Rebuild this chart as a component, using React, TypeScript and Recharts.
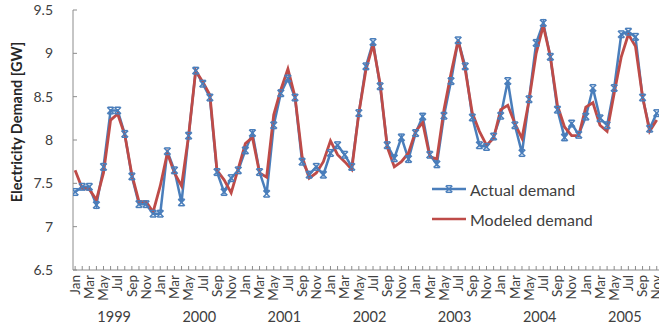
import React from 'react';
import { LineChart, Line, XAxis, YAxis, Legend } from 'recharts';

const monthNames = ['Jan', 'Feb', 'Mar', 'Apr', 'May', 'Jun', 'Jul', 'Aug', 'Sep', 'Oct', 'Nov', 'Dec'];
const years = [1999, 2000, 2001, 2002, 2003, 2004, 2005];
const yTicks = [6.5, 7, 7.5, 8, 8.5, 9, 9.5];

// Monthly values, Jan 1999 .. Nov 2005
const actualDemand = [
  7.40, 7.46, 7.46, 7.25, 7.69, 8.34, 8.34, 8.07, 7.58, 7.26, 7.26, 7.15,
  7.15, 7.87, 7.65, 7.28, 8.05, 8.80, 8.65, 8.49, 7.63, 7.40, 7.56, 7.65,
  7.88, 8.08, 7.63, 7.38, 8.17, 8.54, 8.71, 8.49, 7.75, 7.60, 7.69, 7.60,
  7.85, 7.94, 7.83, 7.69, 8.31, 8.85, 9.13, 8.62, 7.94, 7.79, 8.03, 7.78,
  8.08, 8.27, 7.83, 7.72, 8.28, 8.68, 9.15, 8.85, 8.26, 7.94, 7.92, 8.04,
  8.28, 8.68, 8.17, 7.85, 8.47, 9.12, 9.35, 8.96, 8.35, 8.03, 8.19, 8.06,
  8.27, 8.60, 8.25, 8.17, 8.60, 9.22, 9.25, 9.19, 8.49, 8.13, 8.31,
];

const modeledDemand = [
  7.65, 7.44, 7.43, 7.31, 7.62, 8.23, 8.30, 8.06, 7.60, 7.29, 7.29, 7.17,
  7.47, 7.85, 7.62, 7.47, 8.05, 8.80, 8.67, 8.52, 7.65, 7.54, 7.39, 7.67,
  7.96, 8.03, 7.62, 7.57, 8.29, 8.58, 8.82, 8.50, 7.81, 7.56, 7.62, 7.75,
  7.99, 7.83, 7.75, 7.66, 8.31, 8.81, 9.10, 8.65, 7.92, 7.69, 7.75, 7.85,
  8.10, 8.20, 7.81, 7.78, 8.35, 8.77, 9.15, 8.81, 8.31, 8.10, 7.94, 8.02,
  8.35, 8.40, 8.19, 8.02, 8.46, 9.00, 9.32, 8.96, 8.40, 8.15, 8.05, 8.05,
  8.38, 8.43, 8.17, 8.10, 8.54, 8.96, 9.22, 9.08, 8.50, 8.10, 8.23,
];

const data = actualDemand.map((a, i) => ({ t: i, actual: a, modeled: modeledDemand[i] }));
const monthTicks = data.map((d) => d.t);
const yearTicks = years.map((_, k) => k * 12 + 5.5);

const FONT = "Lato, 'Open Sans', 'DejaVu Sans', sans-serif";
const BLUE = '#4A7EBB';
const RED = '#BE4B48';
const AXIS = '#8c8c8c';
const TEXT = '#404040';

const Star = ({ cx, cy, r = 3.3 }: { cx: number; cy: number; r?: number }) => (
  <g stroke={BLUE} strokeWidth={1.5} fill="none">
    <line x1={cx - r} y1={cy - r} x2={cx + r} y2={cy + r} />
    <line x1={cx - r} y1={cy + r} x2={cx + r} y2={cy - r} />
    <line x1={cx - r + 0.5} y1={cy - r} x2={cx + r - 0.5} y2={cy - r} />
    <line x1={cx - r + 0.5} y1={cy + r} x2={cx + r - 0.5} y2={cy + r} />
  </g>
);

const MonthTick = (props: any) => {
  const { x, y, payload } = props;
  const idx = payload.value as number;
  const show = idx % 2 === 0;
  return (
    <g>
      <line x1={x} y1={y} x2={x} y2={y - 4} stroke={AXIS} strokeWidth={1} />
      {show && (
        <text
          transform={`translate(${x},${y + 5}) rotate(-90)`}
          textAnchor="end"
          dy="0.35em"
          fontFamily={FONT}
          fontSize={13.5}
          fill={TEXT}
        >
          {monthNames[idx % 12]}
        </text>
      )}
    </g>
  );
};

const YearTick = (props: any) => {
  const { x, y, payload } = props;
  const k = Math.round((payload.value - 5.5) / 12);
  return (
    <text x={x} y={y + 12} textAnchor="middle" fontFamily={FONT} fontSize={14.5} fill={TEXT}>
      {years[k]}
    </text>
  );
};

const ValueTick = (props: any) => {
  const { x, y, payload } = props;
  return (
    <g>
      <line x1={x} y1={y} x2={x + 4} y2={y} stroke={AXIS} strokeWidth={1} />
      <text x={x - 20} y={y} dy="0.35em" textAnchor="end" fontFamily={FONT} fontSize={14} fill={TEXT}>
        {String(payload.value)}
      </text>
    </g>
  );
};

const YTitle = (props: any) => {
  const vb = props.viewBox || { x: 0, y: 10, width: 73, height: 260 };
  const cx = vb.x + 17;
  const cy = vb.y + vb.height / 2 - 18;
  return (
    <text
      transform={`translate(${cx},${cy}) rotate(-90)`}
      textAnchor="middle"
      dy="0.35em"
      fontFamily={FONT}
      fontSize={14.5}
      fontWeight="bold"
      fill="#262626"
    >
      Electricity Demand [GW]
    </text>
  );
};

const LegendContent = () => (
  <div style={{ fontFamily: FONT, fontSize: 16, color: TEXT }}>
    <div style={{ display: 'flex', alignItems: 'center', height: 30 }}>
      <svg width={34} height={14} style={{ display: 'block' }}>
        <line x1={0} y1={7} x2={34} y2={7} stroke={BLUE} strokeWidth={2.5} />
        <Star cx={17} cy={7} />
      </svg>
      <span style={{ marginLeft: 4, whiteSpace: 'nowrap' }}>Actual demand</span>
    </div>
    <div style={{ display: 'flex', alignItems: 'center', height: 30 }}>
      <svg width={34} height={14} style={{ display: 'block' }}>
        <line x1={0} y1={7} x2={34} y2={7} stroke={RED} strokeWidth={2.5} />
      </svg>
      <span style={{ marginLeft: 4, whiteSpace: 'nowrap' }}>Modeled demand</span>
    </div>
  </div>
);

export default function App() {
  return (
    <div
      style={{
        position: 'absolute',
        left: 0,
        top: 0,
        width: 659,
        height: 330,
        overflow: 'hidden',
        background: '#fff',
      }}
    >
      <LineChart width={661} height={330} data={data} margin={{ top: 10, right: 0, left: 0, bottom: 0 }}>
        <XAxis
          xAxisId="m"
          dataKey="t"
          type="number"
          domain={[-0.3, 82.6]}
          allowDataOverflow
          ticks={monthTicks}
          interval={0}
          tick={<MonthTick />}
          tickLine={false}
          tickSize={0}
          tickMargin={0}
          height={40}
          axisLine={{ stroke: AXIS, strokeWidth: 1 }}
        />
        <XAxis
          xAxisId="y"
          dataKey="t"
          type="number"
          domain={[-0.3, 82.6]}
          allowDataOverflow
          ticks={yearTicks}
          interval={0}
          tick={<YearTick />}
          tickLine={false}
          tickSize={0}
          tickMargin={0}
          height={20}
          axisLine={false}
        />
        <YAxis
          domain={[6.5, 9.5]}
          ticks={yTicks}
          interval={0}
          width={73}
          tick={<ValueTick />}
          tickLine={false}
          tickSize={0}
          tickMargin={0}
          axisLine={{ stroke: AXIS, strokeWidth: 1 }}
          label={<YTitle />}
        />
        <Legend
          layout="horizontal"
          verticalAlign="middle"
          align="center"
          content={<LegendContent />}
          wrapperStyle={{ left: 432, top: 174, width: 200, height: 60 }}
        />
        <Line
          xAxisId="m"
          type="linear"
          dataKey="actual"
          stroke={BLUE}
          strokeWidth={2.5}
          dot={(p: any) => <Star key={`s-${p.index}`} cx={p.cx} cy={p.cy} />}
          activeDot={false}
          isAnimationActive={false}
        />
        <Line
          xAxisId="m"
          type="linear"
          dataKey="modeled"
          stroke={RED}
          strokeWidth={2.8}
          dot={false}
          activeDot={false}
          isAnimationActive={false}
        />
      </LineChart>
    </div>
  );
}
